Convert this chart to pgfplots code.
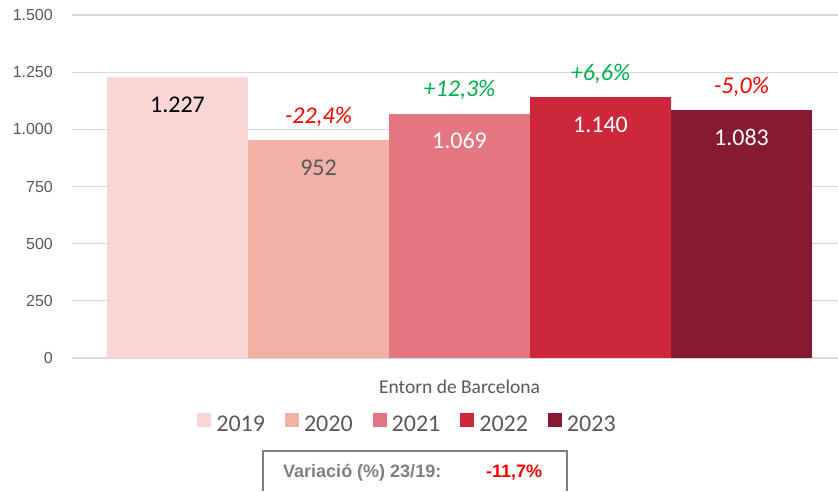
\documentclass[border=0pt]{standalone}
\usepackage{pgfplots}
\pgfplotsset{compat=1.18}
\usepackage{fontspec}
\setmainfont{Carlito}
\newfontfamily\arialf{Liberation Sans}
\definecolor{cA}{HTML}{F8D7D4}
\definecolor{cB}{HTML}{F2B1A7}
\definecolor{cC}{HTML}{E47682}
\definecolor{cD}{HTML}{CD273C}
\definecolor{cE}{HTML}{861A30}
\definecolor{txtgray}{HTML}{595959}
\definecolor{gridgray}{HTML}{D9D9D9}
\definecolor{pgreen}{HTML}{00B050}
\definecolor{pred}{HTML}{FF0000}
\definecolor{boxgray}{HTML}{7F7F7F}
\begin{document}
\begin{tikzpicture}
\useasboundingbox (0,0) rectangle (838pt,491pt);
\begin{axis}[
  at={(72pt,133pt)}, anchor=south west,
  scale only axis, width=766pt, height=343pt,
  xmin=-0.748, xmax=4.684, ymin=0, ymax=1500,
  ytick={0,250,...,1500},
  ymajorgrids, grid style={gridgray, line width=1.3pt},
  axis line style={draw=none},
  major tick length=0pt,
  xtick={2}, xticklabels={Entorn de Barcelona},
  xticklabel style={font=\fontsize{19.5}{20}\selectfont, text=txtgray, inner sep=0pt, anchor=north, yshift=-22pt},
  yticklabel style={font=\arialf\fontsize{16}{16}\selectfont, text=txtgray, inner sep=0pt, anchor=east, xshift=-19pt},
  /pgf/number format/1000 sep={.},
  /pgf/number format/assume math mode=true,
  clip=false,
  legend columns=5,
  legend style={at={(0.4367,-0.1895)}, anchor=center, draw=none, fill=none, inner sep=0pt,
    font=\fontsize{24}{24}\selectfont, text=txtgray, nodes={inner sep=0pt},
    /tikz/every odd column/.append style={column sep=5pt},
    /tikz/every even column/.append style={column sep=20pt}},
  legend image code/.code={\fill[#1,draw=none] (0pt,-3.5pt) rectangle (14pt,10.5pt);},
  value/.style={ybar, bar width=1, bar shift=0pt, draw=none, nodes near coords,
    point meta=explicit symbolic,
    nodes near coords style={font=\fontsize{24}{24}\selectfont, anchor=north, inner sep=0pt, yshift=-19pt}},
  pct/.style={draw=none, mark=none, forget plot, nodes near coords, point meta=explicit symbolic,
    nodes near coords style={font=\itshape\fontsize{24}{24}\selectfont, text=#1, anchor=base, inner sep=0pt, yshift=17pt}},
]
\addplot[value, fill=cA, nodes near coords style={text=black}] coordinates {(0,1227) [1.227]};
\addlegendentry{2019}
\addplot[value, fill=cB, nodes near coords style={text=txtgray}] coordinates {(1,952) [952]};
\addlegendentry{2020}
\addplot[value, fill=cC, nodes near coords style={text=white}] coordinates {(2,1069) [1.069]};
\addlegendentry{2021}
\addplot[value, fill=cD, nodes near coords style={text=white}] coordinates {(3,1140) [1.140]};
\addlegendentry{2022}
\addplot[value, fill=cE, nodes near coords style={text=white}] coordinates {(4,1083) [1.083]};
\addlegendentry{2023}
\addplot[pct=pred] coordinates {(1,952) [-22,4\%]};
\addplot[pct=pgreen] coordinates {(2,1069) [+12,3\%]};
\addplot[pct=pgreen] coordinates {(3,1140) [+6,6\%]};
\addplot[pct=pred] coordinates {(4,1083) [-5,0\%]};
\end{axis}
\draw[boxgray, line width=2pt] (263pt,0pt) -- (263pt,40pt) -- (567pt,40pt) -- (567pt,0pt);
\node[anchor=base west, inner sep=0pt, text=boxgray, font=\arialf\bfseries\fontsize{18}{18}\selectfont] at (283pt,14pt) {Variació (\%) 23/19:};
\node[anchor=base west, inner sep=0pt, text=pred, font=\arialf\bfseries\fontsize{18}{18}\selectfont] at (486pt,14pt) {-11,7\%};
\end{tikzpicture}
\end{document}
